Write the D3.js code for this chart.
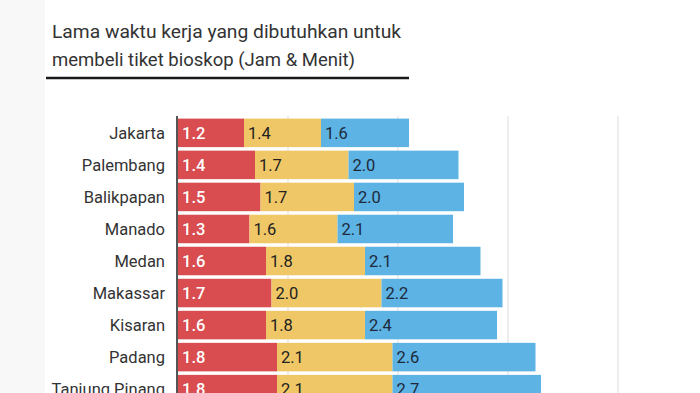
<!DOCTYPE html>
<html><head><meta charset="utf-8">
<script src="https://cdn.jsdelivr.net/npm/d3@7"></script>
<style>html,body{margin:0;padding:0;background:#fff;}svg{display:block;font-family:Roboto,sans-serif;}</style>
</head><body>
<svg id="c" width="700" height="393"></svg>
<script>
const categories = ["Jakarta","Palembang","Balikpapan","Manado","Medan","Makassar","Kisaran","Padang","Tanjung Pinang"];
const series1 = [1.2,1.4,1.5,1.3,1.6,1.7,1.6,1.8,1.8];
const series2 = [1.4,1.7,1.7,1.6,1.8,2.0,1.8,2.1,2.1];
const series3 = [1.6,2.0,2.0,2.1,2.1,2.2,2.4,2.6,2.7];
const gridTicks = [0,2,4,6,8];
const titleLines = ["Lama waktu kerja yang dibutuhkan untuk","membeli tiket bioskop (Jam & Menit)"];

const colors = ["#d94c4f","#efc766","#5cb3e4"];
const textColors = ["#ffffff","#222222","#1e2a3a"];

const svg = d3.select("#c");
svg.append("rect").attr("x",0).attr("y",0).attr("width",45).attr("height",393).attr("fill","#f8f8f8");

svg.selectAll("text.title").data(titleLines).enter().append("text")
  .attr("x",52).attr("y",(d,i)=>38+i*28)
  .attr("font-size",18.5).attr("fill","#333")
  .attr("textLength",(d,i)=>i===0?349:303).attr("lengthAdjust","spacingAndGlyphs")
  .text(d=>d);
svg.append("line").attr("x1",46).attr("x2",409).attr("y1",78).attr("y2",78)
  .attr("stroke","#1a1a1a").attr("stroke-width",2.5);

const x = d3.scaleLinear().domain([0,8]).range([178,618]);
const y = d3.scaleBand().domain(categories).range([117,117+32*categories.length]).paddingInner(0.11).paddingOuter(0.05);

// gridlines
svg.append("g").selectAll("line").data(gridTicks.slice(1)).enter().append("line")
  .attr("x1",d=>x(d)).attr("x2",d=>x(d)).attr("y1",116).attr("y2",393)
  .attr("stroke","#dddddd").attr("stroke-width",1);

const rows = categories.map((c,i)=>({c, v:[series1[i],series2[i],series3[i]]}));
const segs = [];
rows.forEach(r=>{let s=0; r.v.forEach((v,k)=>{segs.push({c:r.c,k,v,x0:s,x1:s+v}); s+=v;});});

svg.append("g").selectAll("rect").data(segs).enter().append("rect")
  .attr("x",d=>x(d.x0)).attr("width",d=>x(d.x1)-x(d.x0))
  .attr("y",d=>y(d.c)).attr("height",y.bandwidth())
  .attr("fill",d=>colors[d.k]);

svg.append("g").selectAll("text").data(segs).enter().append("text")
  .attr("x",d=>x(d.x0)+4).attr("y",d=>y(d.c)+y.bandwidth()/2)
  .attr("dy","0.36em").attr("font-size",16.5)
  .attr("font-weight",d=>d.k===0?500:400)
  .attr("fill",d=>textColors[d.k]).text(d=>d.v.toFixed(1));

svg.append("g").selectAll("text").data(categories).enter().append("text")
  .attr("x",165).attr("y",d=>y(d)+y.bandwidth()/2).attr("dy","0.36em")
  .attr("text-anchor","end").attr("font-size",16.5).attr("fill","#333").text(d=>d);

svg.append("line").attr("x1",177).attr("x2",177).attr("y1",116).attr("y2",393)
  .attr("stroke","#555").attr("stroke-width",2);
</script>
</body></html>
